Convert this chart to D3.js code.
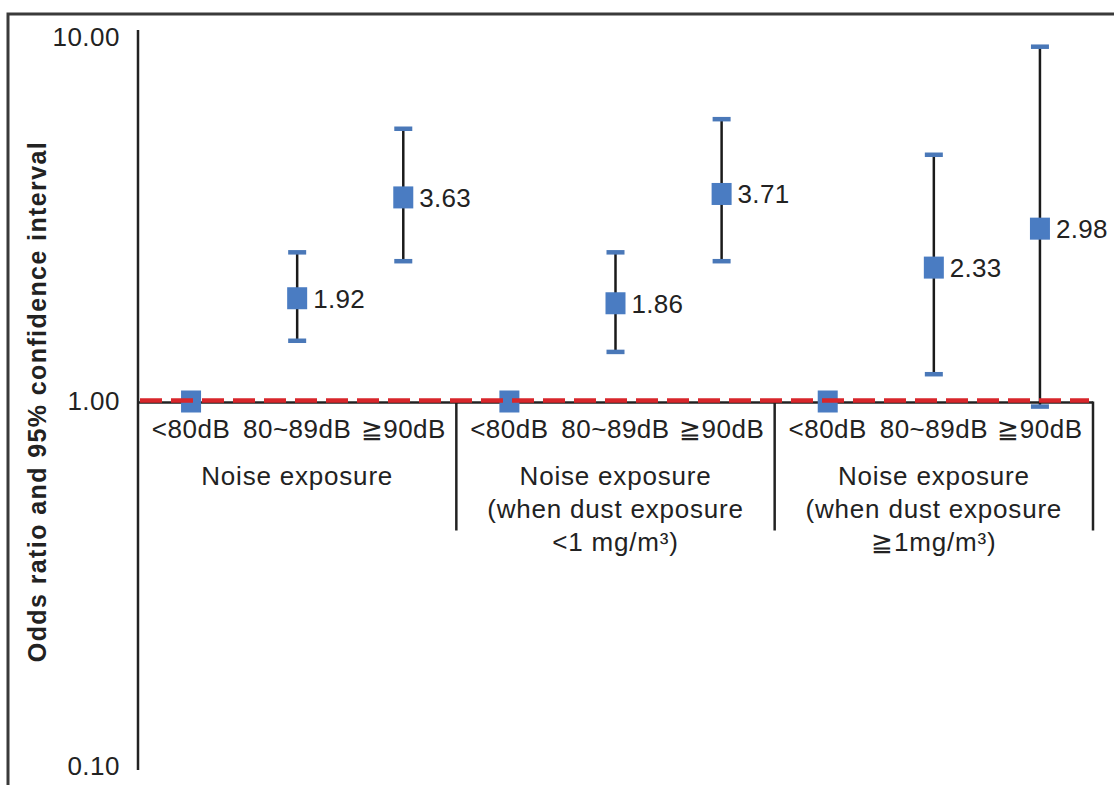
<!DOCTYPE html>
<meta charset="utf-8">
<style>
body { margin: 0; background: #fff; }
text { font-family: "Liberation Sans", Arial, sans-serif; fill: #222; }
.tick text { font-size: 26px; letter-spacing: 0.5px; }
.vlabel { font-size: 26px; letter-spacing: 0.3px; }
.glabel { font-size: 26px; letter-spacing: 0.8px; }
.ytitle { font-size: 25px; font-weight: bold; letter-spacing: 1.4px; }
</style>
<svg width="1114" height="785"></svg>
<script src="https://d3js.org/d3.v7.min.js"></script>
<script>

// categories (3 noise levels in 3 groups)
var levels = ["<80dB", "80~89dB", "\u226790dB"];
var groupLines = [
  ["Noise exposure"],
  ["Noise exposure", "(when dust exposure", "<1 mg/m\u00b3)"],
  ["Noise exposure", "(when dust exposure", "\u22671mg/m\u00b3)"]
];

// odds ratios and 95% CI
var oddsRatio = [1, 1.92, 3.63, 1, 1.86, 3.71, 1, 2.33, 2.98];
var ciLower   = [null, 1.47, 2.43, null, 1.37, 2.43, null, 1.19, 0.97];
var ciUpper   = [null, 2.57, 5.61, null, 2.57, 5.96, null, 4.76, 9.42];
var yTicks = [0.1, 1, 10];

var points = oddsRatio.map(function(v, i) {
  return { i: i, level: levels[i % 3], or: v, lo: ciLower[i], hi: ciUpper[i] };
});

var svg = d3.select("svg");

var x = d3.scaleBand()
    .domain(d3.range(points.length))
    .range([138, 1093]);

var y = d3.scaleLog()
    .domain([0.1, 10])
    .range([766, 37]);

// frame
svg.append("path")
    .attr("d", "M8,785V14H1114")
    .attr("fill", "none")
    .attr("stroke", "#3a3a3a")
    .attr("stroke-width", 3);

// y axis
var yAxis = svg.append("g")
    .attr("transform", "translate(138,0)")
    .call(d3.axisLeft(y).tickValues(yTicks).tickFormat(d3.format(".2f")).tickSize(0).tickPadding(18));
yAxis.select(".domain").remove();

svg.append("line")
    .attr("x1", 138).attr("x2", 138)
    .attr("y1", y(10) - 7).attr("y2", y(0.1) + 4)
    .attr("stroke", "#222").attr("stroke-width", 2.5);

svg.append("text")
    .attr("class", "ytitle")
    .attr("transform", "translate(46," + y(1) + ") rotate(-90)")
    .attr("text-anchor", "middle")
    .text("Odds ratio and 95% confidence interval");

// x axis at OR = 1
var xAxis = svg.append("g")
    .attr("transform", "translate(0," + y(1) + ")")
    .call(d3.axisBottom(x).tickSize(0).tickPadding(18).tickFormat(function(d) { return levels[d % 3]; }));
xAxis.select(".domain").remove();

svg.append("line")
    .attr("x1", x.range()[0]).attr("x2", x.range()[1])
    .attr("y1", y(1) + 1).attr("y2", y(1) + 1)
    .attr("stroke", "#222").attr("stroke-width", 2.5);

// group separators
svg.selectAll(".sep")
  .data([3, 6, 9])
  .enter().append("line")
    .attr("class", "sep")
    .attr("x1", function(d) { return x.range()[0] + d * x.step(); })
    .attr("x2", function(d) { return x.range()[0] + d * x.step(); })
    .attr("y1", y(1)).attr("y2", y(1) + 129)
    .attr("stroke", "#222").attr("stroke-width", 2.5);

// group labels
svg.selectAll(".glabel")
  .data(groupLines)
  .enter().append("text")
    .attr("class", "glabel")
    .attr("text-anchor", "middle")
    .attr("transform", function(d, g) {
      return "translate(" + (x(g * 3) + 1.5 * x.bandwidth()) + "," + (y(1) + 83) + ")";
    })
  .selectAll("tspan")
  .data(function(d) { return d; })
  .enter().append("tspan")
    .attr("x", 0)
    .attr("y", function(d, k) { return k * 33; })
    .text(function(d) { return d; });

// error bars
var ci = points.filter(function(d) { return d.lo != null; });

svg.selectAll(".whisker")
  .data(ci)
  .enter().append("line")
    .attr("class", "whisker")
    .attr("x1", function(d) { return x(d.i) + x.bandwidth() / 2; })
    .attr("x2", function(d) { return x(d.i) + x.bandwidth() / 2; })
    .attr("y1", function(d) { return y(d.lo); })
    .attr("y2", function(d) { return y(d.hi); })
    .attr("stroke", "#1a1a1a").attr("stroke-width", 2.5);

var caps = [];
ci.forEach(function(d) { caps.push({ i: d.i, v: d.lo }); caps.push({ i: d.i, v: d.hi }); });

svg.selectAll(".cap")
  .data(caps)
  .enter().append("rect")
    .attr("class", "cap")
    .attr("x", function(d) { return x(d.i) + x.bandwidth() / 2 - 9; })
    .attr("y", function(d) { return y(d.v) - 2; })
    .attr("width", 18).attr("height", 4.5)
    .attr("fill", "#4a78b8");

// markers
svg.selectAll(".marker")
  .data(points)
  .enter().append("rect")
    .attr("class", "marker")
    .attr("x", function(d) { return x(d.i) + x.bandwidth() / 2 - 10; })
    .attr("y", function(d) { return y(d.or) - 11; })
    .attr("width", 20).attr("height", 22)
    .attr("fill", "#4a7cc2");

svg.selectAll(".vlabel")
  .data(points.filter(function(d) { return d.or !== 1; }))
  .enter().append("text")
    .attr("class", "vlabel")
    .attr("x", function(d) { return x(d.i) + x.bandwidth() / 2 + 16; })
    .attr("y", function(d) { return y(d.or); })
    .attr("dy", "0.36em")
    .text(function(d) { return d3.format(".2f")(d.or); });

// reference line OR = 1
svg.append("line")
    .attr("x1", x.range()[0] + 2).attr("x2", x.range()[1] - 4)
    .attr("y1", y(1) - 1).attr("y2", y(1) - 1)
    .attr("stroke", "#d8262b").attr("stroke-width", 4.5)
    .attr("stroke-dasharray", "22,9");

</script>
